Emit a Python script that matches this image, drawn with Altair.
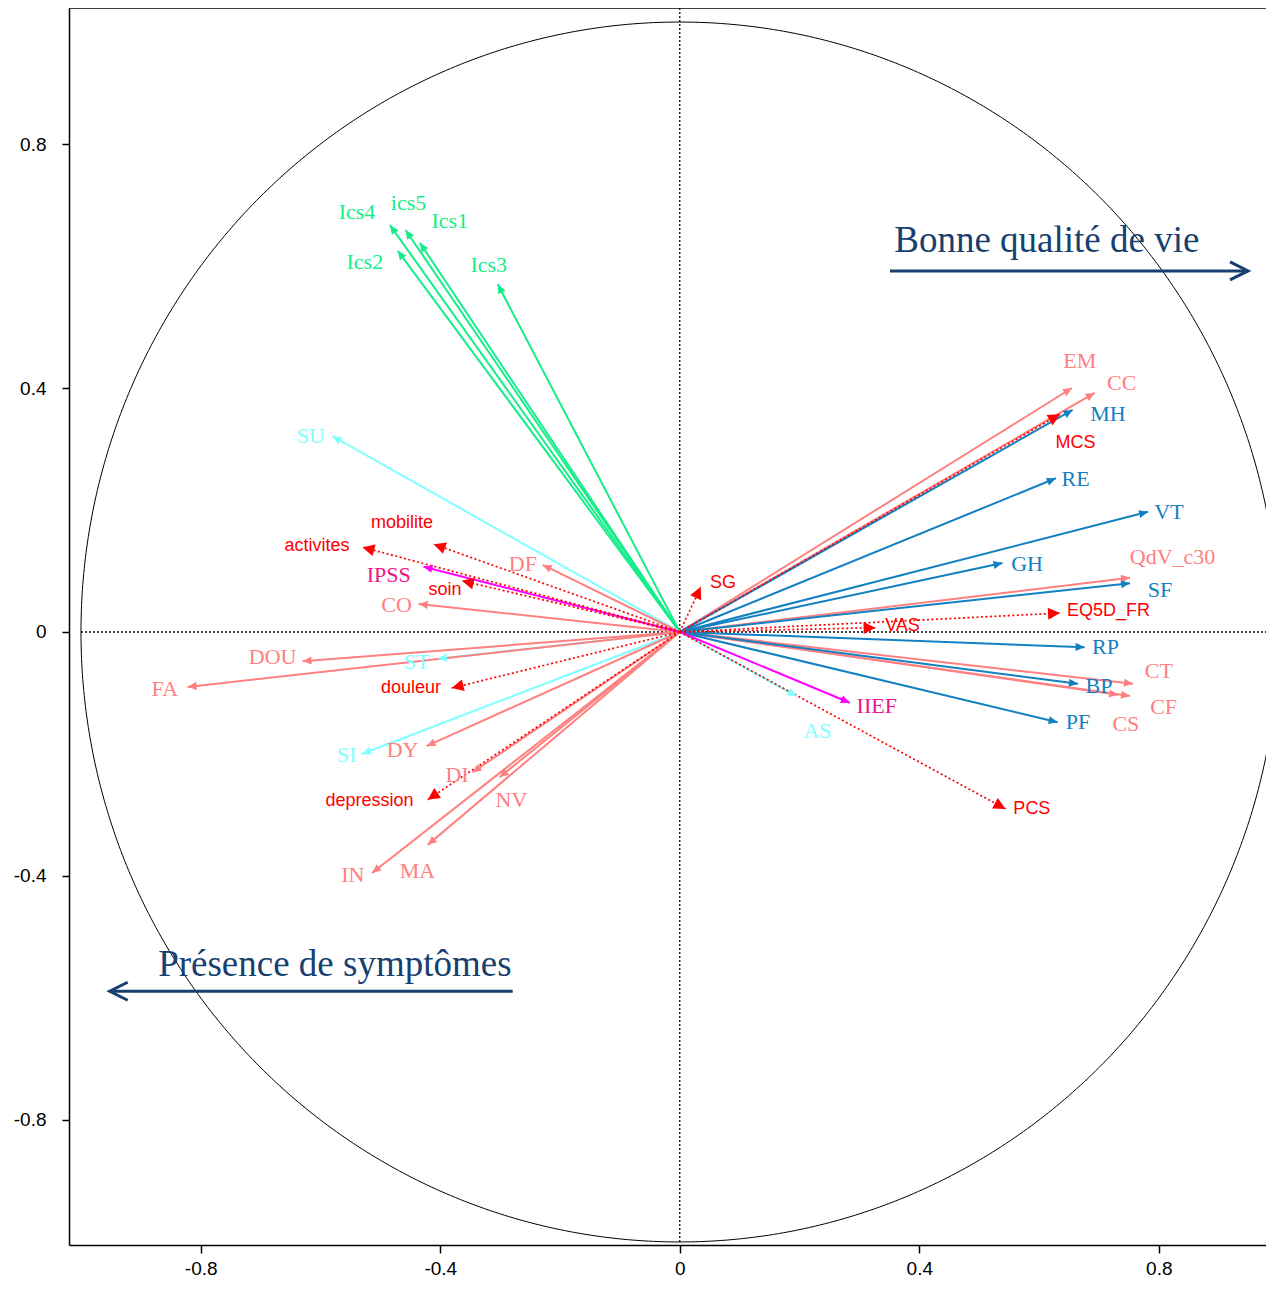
import altair as alt
import numpy as np
import pandas as pd

# ---------------- data ----------------
names = ["Ics4", "ics5", "Ics1", "Ics2", "Ics3",
         "SU", "ST", "SI", "AS",
         "EM", "CC", "QdV_c30", "CT", "CF", "CS", "DF", "CO", "DOU", "FA",
         "DY", "DI", "NV", "MA", "IN",
         "MH", "RE", "VT", "GH", "SF", "RP", "BP", "PF",
         "MCS", "SG", "EQ5D_FR", "VAS", "PCS", "mobilite", "activites",
         "soin", "douleur", "depression",
         "IPSS", "IIEF"]
groups = ["ics"] * 5 + ["mod"] * 4 + ["sympt"] * 15 + ["sf36"] * 8 + ["eq"] * 10 + ["uro"] * 2
x_end = [-0.484, -0.458, -0.434, -0.471, -0.304,
         -0.580, -0.404, -0.531, 0.195,
         0.655, 0.693, 0.752, 0.757, 0.752, 0.732, -0.229, -0.436, -0.630, -0.822,
         -0.423, -0.346, -0.301, -0.421, -0.514,
         0.656, 0.628, 0.782, 0.539, 0.752, 0.676, 0.665, 0.631,
         0.635, 0.035, 0.635, 0.327, 0.544, -0.411, -0.530,
         -0.364, -0.381, -0.421,
         -0.428, 0.284]
y_end = [0.667, 0.659, 0.638, 0.625, 0.570,
         0.321, -0.044, -0.200, -0.105,
         0.400, 0.392, 0.089, -0.085, -0.105, -0.103, 0.110, 0.046, -0.048, -0.090,
         -0.187, -0.230, -0.238, -0.349, -0.395,
         0.364, 0.252, 0.197, 0.113, 0.080, -0.025, -0.085, -0.148,
         0.357, 0.074, 0.031, 0.007, -0.290, 0.144, 0.139,
         0.084, -0.092, -0.275,
         0.107, -0.116]
lab_x = [-0.539, -0.453, -0.384, -0.526, -0.319,
         -0.616, -0.439, -0.556, 0.230,
         0.668, 0.738, 0.823, 0.800, 0.808, 0.745, -0.262, -0.473, -0.680, -0.860,
         -0.463, -0.372, -0.281, -0.438, -0.546,
         0.715, 0.661, 0.817, 0.580, 0.802, 0.711, 0.700, 0.665,
         0.661, 0.072, 0.716, 0.372, 0.588, -0.464, -0.606,
         -0.392, -0.449, -0.518,
         -0.486, 0.329]
lab_y = [0.689, 0.703, 0.674, 0.607, 0.602,
         0.321, -0.049, -0.202, -0.162,
         0.444, 0.408, 0.123, -0.064, -0.123, -0.151, 0.111, 0.044, -0.041, -0.093,
         -0.193, -0.234, -0.275, -0.392, -0.398,
         0.357, 0.251, 0.197, 0.111, 0.069, -0.025, -0.089, -0.148,
         0.310, 0.080, 0.034, 0.010, -0.290, 0.179, 0.141,
         0.069, -0.092, -0.277,
         0.093, -0.121]

ann_text = ["Bonne qualité de vie", "Présence de symptômes"]
ann_x = [0.613, -0.576]
ann_y = [0.623, -0.564]
ann_x0 = [0.351, -0.279]
ann_x1 = [0.949, -0.952]
ann_yl = [0.592, -0.589]

tick_vals = [-0.8, -0.4, 0, 0.4, 0.8]

# ---------------- layout ----------------
XS, YS = 598.75, 610.0          # pixels per unit
X_DOM = [-1.02, 0.979]
Y_DOM = [-1.005, 1.023]
W = int(round((X_DOM[1] - X_DOM[0]) * XS))
H = int(round((Y_DOM[1] - Y_DOM[0]) * YS))

df = pd.DataFrame(dict(name=names, group=groups, x=x_end, y=y_end, lx=lab_x, ly=lab_y))
df["tg"] = df["group"]
df["x0"] = 0.0
df["y0"] = 0.0
df["ang"] = (np.degrees(np.arctan2(df["x"] * XS, df["y"] * YS)) + 360) % 360

ann = pd.DataFrame(dict(text=ann_text, tx=ann_x, ty=ann_y, x0=ann_x0, x1=ann_x1, yl=ann_yl))
ann["ang"] = np.where(ann["x1"] > ann["x0"], 0, 180)

t = np.linspace(0, 2 * np.pi, 721)
circ = pd.DataFrame(dict(cx=np.cos(t), cy=np.sin(t), i=np.arange(len(t))))

grp_dom = ["ics", "mod", "sympt", "sf36", "eq", "uro"]
line_col = ["#14EE88", "#80FFFF", "#FF8080", "#1380C2", "#FF0000", "#FF00FF"]
text_col = ["#14EE88", "#80FFFF", "#FF8080", "#1380C2", "#FF0000", "#F0148C"]
NAVY = "#173F6F"

xs = alt.Scale(domain=X_DOM, nice=False, zero=False)
ys = alt.Scale(domain=Y_DOM, nice=False, zero=False)
lab_expr = ("datum.value == 0 ? '0' : (datum.value < 0 ? '-' + format(-datum.value, '.1f') "
            ": format(datum.value, '.1f'))")
xaxis = alt.Axis(values=tick_vals, labelExpr=lab_expr, title=None, grid=False,
                 tickSize=8, labelPadding=6, domainColor="black", tickColor="black",
                 domainWidth=1.5, tickWidth=1.5, labelColor="black",
                 labelFont="Liberation Sans", labelFontSize=19)
yaxis = alt.Axis(values=tick_vals, labelExpr=lab_expr, title=None, grid=False,
                 tickSize=7, labelPadding=16, domainColor="black", tickColor="black",
                 domainWidth=1.5, tickWidth=1.5, labelColor="black",
                 labelFont="Liberation Sans", labelFontSize=19)


def X(f):
    return alt.X(f, type="quantitative", scale=xs, axis=xaxis)


def Y(f):
    return alt.Y(f, type="quantitative", scale=ys, axis=yaxis)


lcol = alt.Color("group:N", scale=alt.Scale(domain=grp_dom, range=line_col), legend=None)
tcol = alt.Fill("tg:N", scale=alt.Scale(domain=grp_dom, range=text_col), legend=None)

circle = alt.Chart(circ).mark_line(color="black", strokeWidth=1, clip=True).encode(
    x=X("cx"), y=Y("cy"), order="i:Q")

zero_df = pd.DataFrame(dict(a=[-1.0], b=[1.0], c=[0.0], d=[1.05]))
hzero = alt.Chart(zero_df).mark_rule(color="black", strokeWidth=1.3, strokeDash=[2, 2],
                                      clip=True).encode(x=X("a"), x2="b", y=Y("c"))
vzero = alt.Chart(zero_df).mark_rule(color="black", strokeWidth=1.3, strokeDash=[2, 2],
                                      clip=True).encode(x=X("c"), y=Y("a"), y2="d")

base = alt.Chart(df)
solid = base.transform_filter("datum.group != 'eq'").mark_rule(strokeWidth=2).encode(
    x=X("x0"), y=Y("y0"), x2="x", y2="y", color=lcol)
dotted = base.transform_filter("datum.group == 'eq'").mark_rule(
    strokeWidth=1.7, strokeDash=[2, 2.5]).encode(
    x=X("x0"), y=Y("y0"), x2="x", y2="y", color=lcol)

SMALL = "M0,0 L-0.45,1 L0.45,1 Z"
BIG = "M0,0 L-0.5,1 L0.5,1 Z"
heads_s = base.transform_filter("datum.group != 'eq'").mark_point(
    shape=SMALL, filled=True, size=324, opacity=1, strokeWidth=0).encode(
    x=X("x"), y=Y("y"), angle=alt.Angle("ang:Q", scale=None), color=lcol)
heads_b = base.transform_filter("datum.group == 'eq'").mark_point(
    shape=BIG, filled=True, size=576, opacity=1, strokeWidth=0).encode(
    x=X("x"), y=Y("y"), angle=alt.Angle("ang:Q", scale=None), color=lcol)

txt_serif = base.transform_filter("datum.group != 'eq'").mark_text(
    font="Liberation Serif", fontSize=22, align="center", baseline="middle").encode(
    x=X("lx"), y=Y("ly"), text="name:N", fill=tcol)
txt_sans = base.transform_filter("datum.group == 'eq'").mark_text(
    font="Liberation Sans", fontSize=18, align="center", baseline="middle").encode(
    x=X("lx"), y=Y("ly"), text="name:N", fill=tcol)

abase = alt.Chart(ann)
ann_line = abase.mark_rule(color=NAVY, strokeWidth=3).encode(x=X("x0"), x2="x1", y=Y("yl"))
ann_head = abase.mark_point(shape="M-1,-0.5 L0,0 L-1,0.5", filled=False, size=1296,
                            strokeWidth=3, color=NAVY, opacity=1).encode(
    x=X("x1"), y=Y("yl"), angle=alt.Angle("ang:Q", scale=None))
ann_txt = abase.mark_text(font="Liberation Serif", fontSize=37, color=NAVY,
                          align="center", baseline="alphabetic").encode(
    x=X("tx"), y=Y("ty"), text="text:N")

frame_top = alt.Chart(zero_df).mark_rule(color="black", strokeWidth=1.5).encode(
    x=alt.value(0), x2=alt.value(W), y=alt.value(0))

chart = alt.layer(circle, hzero, vzero, solid, dotted, heads_s, heads_b,
                  txt_serif, txt_sans, ann_line, ann_head, ann_txt, frame_top).properties(
    width=W, height=H,
    autosize=alt.AutoSizeParams(type="none"),
    padding={"left": 61, "top": 0, "right": 0, "bottom": 1273 - H},
    background="white",
).configure_view(stroke=None)

chart.save("out.html", embed_options={"renderer": "svg", "actions": False})
